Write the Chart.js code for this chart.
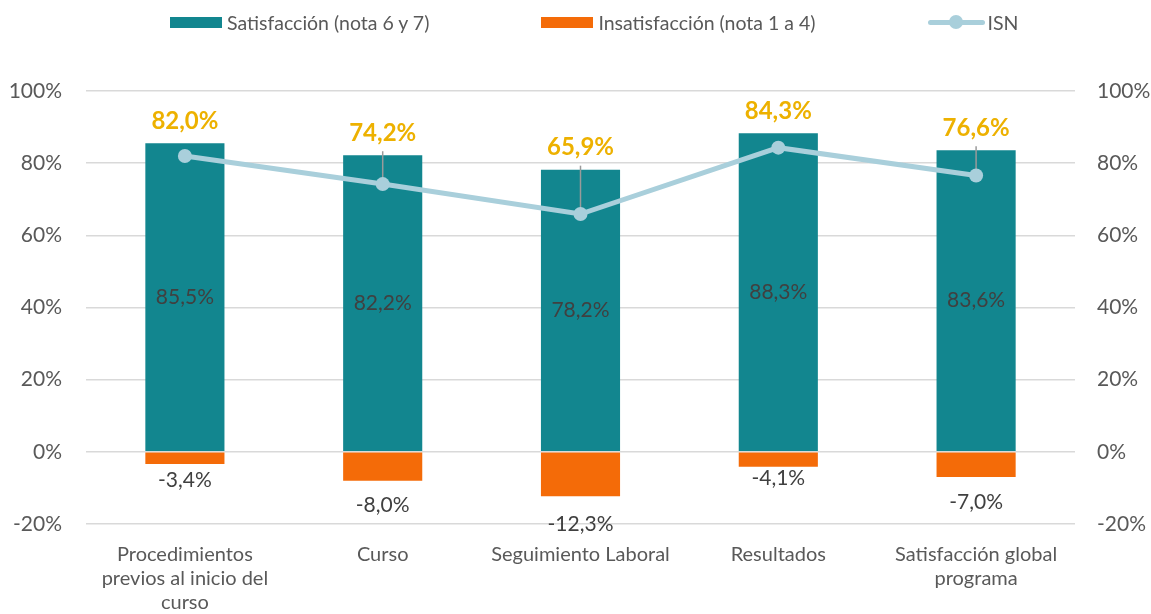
<!DOCTYPE html>
<html>
<head>
<meta charset="utf-8">
<script src="https://cdn.jsdelivr.net/npm/chart.js@4.4.0/dist/chart.umd.min.js"></script>
<style>
  html, body { margin: 0; padding: 0; background: #fff; }
  #wrap { position: relative; width: 1151px; height: 614px; }
  #legend {
    position: absolute; left: 170px; top: 10px; height: 24px;
    display: flex; align-items: center; gap: 112px;
    font-family: Lato, "Open Sans", sans-serif; font-size: 19.5px; color: #595959;
  }
  #legend .item { display: flex; align-items: center; white-space: nowrap; }
  #legend .box { width: 52px; height: 11px; margin-right: 5px; }
  #legend .line { position: relative; width: 57px; height: 14px; margin-right: 3px; }
  #legend .line::before {
    content: ""; position: absolute; left: 0; right: 0; top: 4.5px; height: 5px;
    border-radius: 3px; background: #A9CFDB;
  }
  #legend .line::after {
    content: ""; position: absolute; left: 21.5px; top: 0; width: 14px; height: 14px;
    border-radius: 50%; background: #A9CFDB;
  }
</style>
</head>
<body>
<div id="wrap">
  <canvas id="chart" width="1151" height="614"></canvas>
  <div id="legend"></div>
</div>
<script>
// chart data
const categories = [
    ["Procedimientos", "previos al inicio del", "curso"],
    "Curso",
    "Seguimiento Laboral",
    "Resultados",
    ["Satisfacción global", "programa"]
];
const seriesNames = ["Satisfacción (nota 6 y 7)", "Insatisfacción (nota 1 a 4)", "ISN"];
const satisfaccion = [85.5, 82.2, 78.2, 88.3, 83.6];
const insatisfaccion = [-3.4, -8.0, -12.3, -4.1, -7.0];
const isn = [82.0, 74.2, 65.9, 84.3, 76.6];
const tickValues = [-20, 0, 20, 40, 60, 80, 100];

const TEAL = "#12868F";
const ORANGE = "#F46B08";
const LINE = "#A9CFDB";
const GOLD = "#EDB100";
const FONT = "Lato, 'Open Sans', sans-serif";

// gap between the end of a negative bar and its label (px)
const insLabelGap = [16, 25, 28, 12, 25];

function fmt(v) {
    return v.toFixed(1).replace(".", ",") + "%";
}

// html legend
let legend = document.getElementById("legend");
[TEAL, ORANGE, null].forEach((color, i) => {
    let item = document.createElement("div");
    item.className = "item";
    let mark = document.createElement("span");
    if (color) {
        mark.className = "box";
        mark.style.background = color;
    } else {
        mark.className = "line";
    }
    let txt = document.createElement("span");
    txt.textContent = seriesNames[i];
    item.appendChild(mark);
    item.appendChild(txt);
    legend.appendChild(item);
});

const labelsPlugin = {
    id: "valueLabels",
    beforeDatasetDraw(chart, args) {
        // leader lines from ISN labels down to the points, under the line
        if (args.index !== 2) return;
        let ctx = chart.ctx;
        let bars = chart.getDatasetMeta(0).data;
        let pts = chart.getDatasetMeta(2).data;
        ctx.save();
        ctx.strokeStyle = "#9a9a9a";
        ctx.lineWidth = 1.5;
        pts.forEach((p, i) => {
            if (p.y - bars[i].y > 20) {
                ctx.beginPath();
                ctx.moveTo(p.x, bars[i].y - 4);
                ctx.lineTo(p.x, p.y);
                ctx.stroke();
            }
        });
        ctx.restore();
    },
    afterDatasetsDraw(chart) {
        let ctx = chart.ctx;
        let bars = chart.getDatasetMeta(0).data;
        let neg = chart.getDatasetMeta(1).data;
        ctx.save();
        ctx.textAlign = "center";
        ctx.textBaseline = "middle";
        bars.forEach((b, i) => {
            ctx.font = "21px " + FONT;
            ctx.fillStyle = "#404040";
            ctx.fillText(fmt(satisfaccion[i]), b.x, (b.y + b.base) / 2);
            ctx.fillText(fmt(insatisfaccion[i]), neg[i].x, neg[i].y + insLabelGap[i]);
            ctx.font = "bold 24px " + FONT;
            ctx.fillStyle = GOLD;
            ctx.fillText(fmt(isn[i]), b.x, b.y - 22);
        });
        ctx.restore();
    }
};

const tickFont = { family: FONT, size: 21 };
const buildTicks = (s) => { s.ticks = tickValues.map((v) => ({ value: v })); };

let ctx = document.getElementById("chart").getContext("2d");
let chart = new Chart(ctx, {
    type: "bar",
    data: {
        labels: categories,
        datasets: [
            {
                label: seriesNames[0],
                data: satisfaccion,
                backgroundColor: TEAL,
                yAxisID: "y",
                order: 1
            },
            {
                label: seriesNames[1],
                data: insatisfaccion,
                backgroundColor: ORANGE,
                yAxisID: "y",
                order: 2
            },
            {
                type: "line",
                label: seriesNames[2],
                data: isn,
                borderColor: LINE,
                backgroundColor: LINE,
                borderWidth: 5,
                pointRadius: 7,
                pointBorderWidth: 0,
                pointBackgroundColor: LINE,
                yAxisID: "y1",
                order: 0
            }
        ]
    },
    options: {
        responsive: false,
        animation: false,
        datasets: {
            bar: { categoryPercentage: 1, barPercentage: 0.4 }
        },
        layout: { padding: { left: 0, right: 0, top: 91, bottom: 0 } },
        plugins: {
            tooltip: { enabled: false },
            legend: { display: false }
        },
        scales: {
            x: {
                stacked: true,
                grid: { display: false },
                border: { display: false },
                afterFit: (s) => { s.height = 90; },
                ticks: {
                    color: "#595959",
                    font: { family: FONT, size: 20, lineHeight: 1.2 },
                    padding: 11,
                    maxRotation: 0,
                    autoSkip: false
                }
            },
            y: {
                stacked: true,
                position: "left",
                min: -20,
                max: 100,
                afterBuildTicks: buildTicks,
                afterFit: (s) => { s.width = 86; },
                grid: { color: "#D9D9D9", lineWidth: 1.5, drawTicks: false },
                border: { display: false },
                ticks: { color: "#595959", font: tickFont, padding: 24, callback: (v) => v + "%" }
            },
            y1: {
                position: "right",
                min: -20,
                max: 100,
                afterBuildTicks: buildTicks,
                afterFit: (s) => { s.width = 76; },
                grid: { display: false, drawTicks: false },
                border: { display: false },
                ticks: { color: "#595959", font: tickFont, padding: 22, callback: (v) => v + "%" }
            }
        }
    },
    plugins: [labelsPlugin]
});
</script>
</body>
</html>
